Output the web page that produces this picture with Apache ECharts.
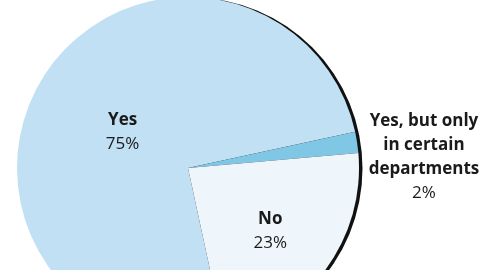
<!DOCTYPE html>
<html><head><meta charset="utf-8">
<script src="https://cdn.jsdelivr.net/npm/echarts@6/dist/echarts.min.js"></script>
<style>html,body{margin:0;padding:0;background:#fff}#c{width:480px;height:270px}</style>
</head><body><div id="c"></div>
<script>
const categories = ['Yes', 'Yes, but only\nin certain\ndepartments', 'No'];
const values = [75, 2, 23];
const colors = ['#c1e0f3', '#80c7e6', '#eef6fb'];

const labelShift = [[9, 12], [0, 16], [11, 11]];

const chart = echarts.init(document.getElementById('c'), null, {renderer: 'canvas'});
const FONT = '"Open Sans", sans-serif';
chart.setOption({
  animation: false,
  series: [
    {
      type: 'pie', silent: true, center: [191.5, 168.5], radius: 171,
      data: [{value: 1, itemStyle: {color: '#111'}}],
      label: {show: false}, labelLine: {show: false}, z: 1
    },
    {
      type: 'pie', silent: true, center: [188, 168], radius: 171,
      startAngle: -77.8, clockwise: true, z: 2,
      data: categories.map((c, i) => ({
        name: c, value: values[i],
        itemStyle: {color: colors[i]},
        label: i === 1 ? {position: 'outside', overflow: 'none', width: 200} : {position: 'inside'}
      })),
      itemStyle: {borderWidth: 0},
      labelLine: {show: false, length: 10, length2: 52},
      label: {
        overflow: 'none',
        formatter: p => '{b|' + p.name.split('\n').join('}\n{b|') + '}\n{v|' + p.value + '%}',
        rich: {
          b: {fontFamily: FONT, fontWeight: 'bold', fontSize: 17, color: '#1a1a1a', lineHeight: 24, align: 'center'},
          v: {fontFamily: FONT, fontSize: 17, color: '#1a1a1a', lineHeight: 24, align: 'center'}
        }
      },
      labelLayout: p => ({dx: labelShift[p.dataIndex][0], dy: labelShift[p.dataIndex][1], align: 'center'})
    }
  ]
});
</script></body></html>
